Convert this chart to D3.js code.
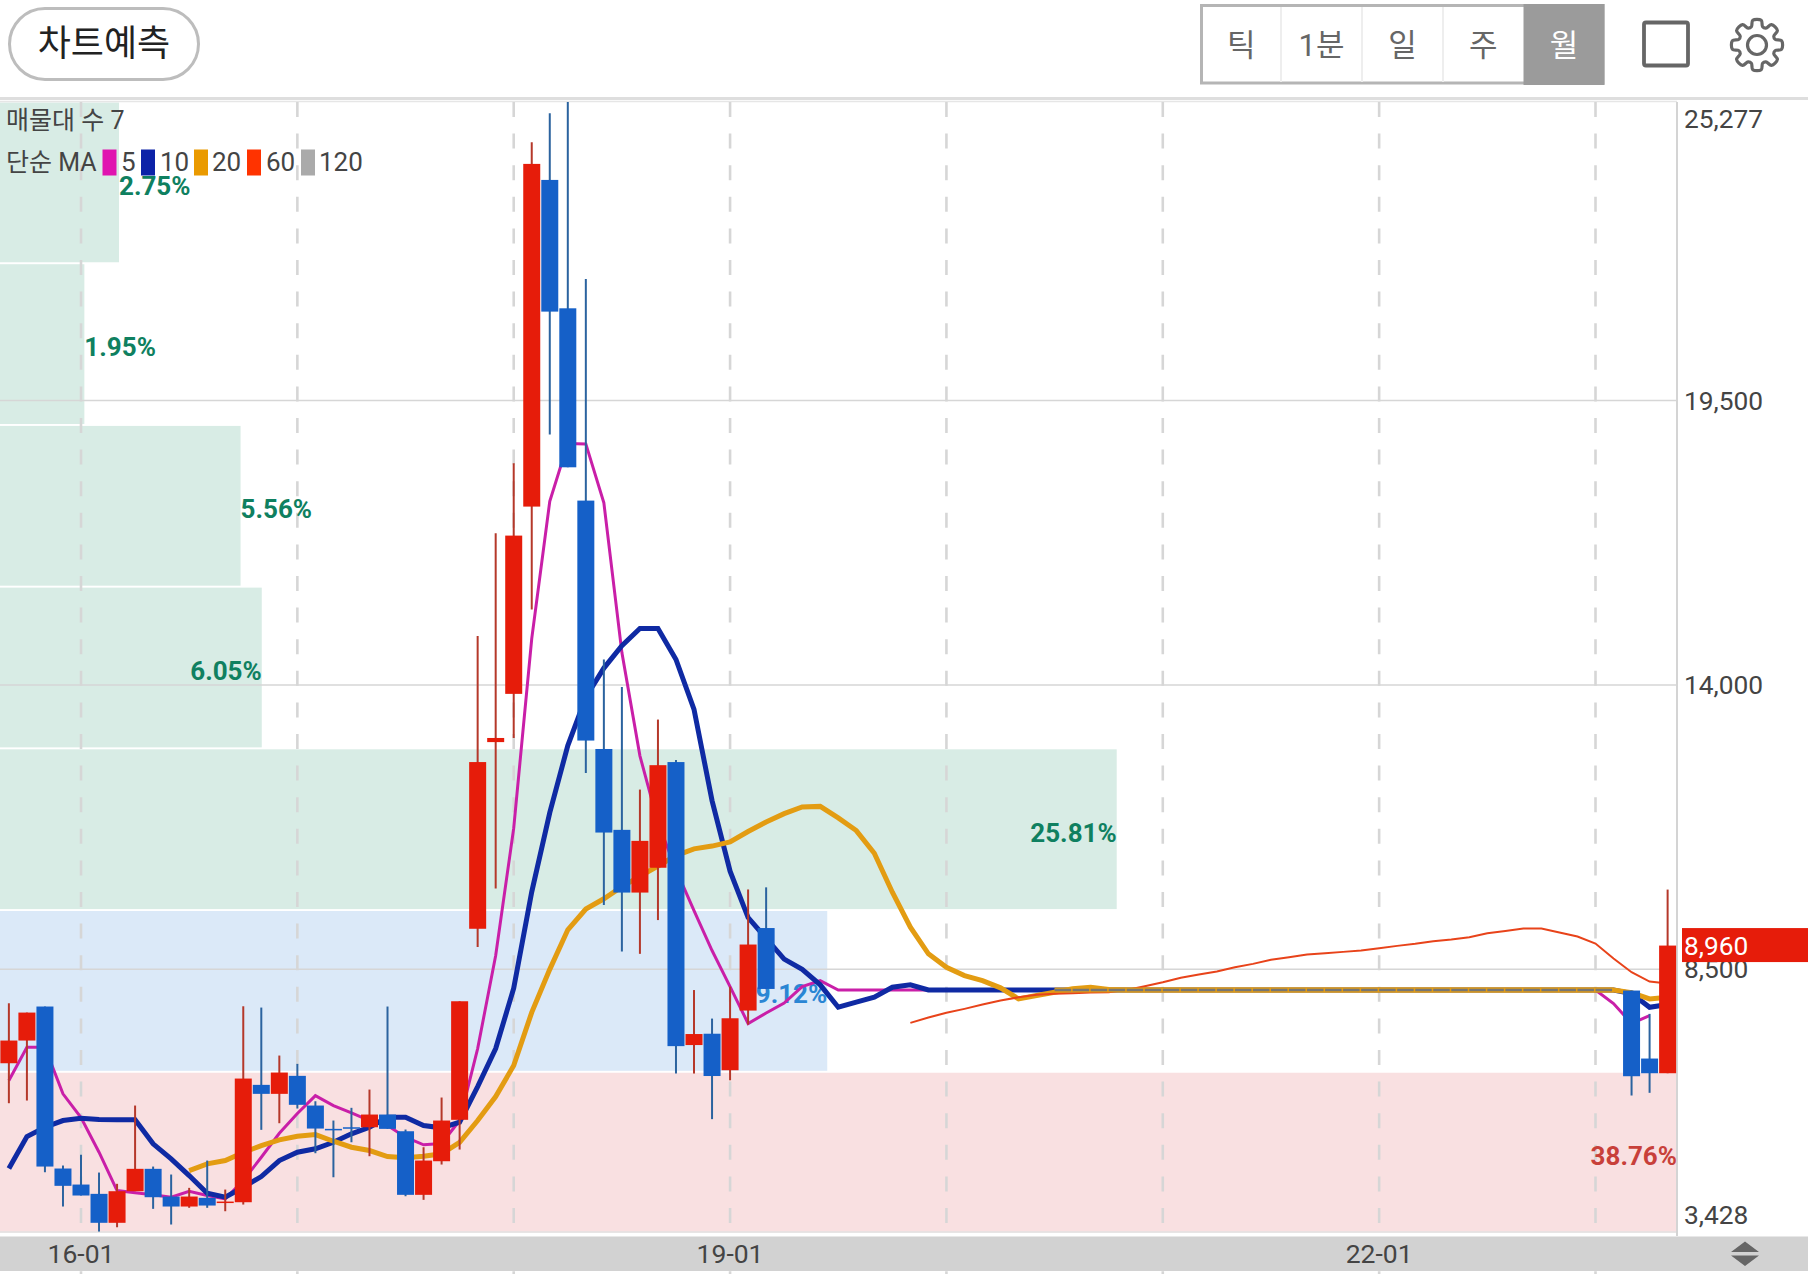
<!DOCTYPE html>
<html><head><meta charset="utf-8">
<script src="https://cdn.jsdelivr.net/npm/d3@7/dist/d3.min.js"></script>
<style>html,body{margin:0;padding:0;background:#fff}svg{display:block}
text{font-family:Roboto,"Noto Sans CJK KR",sans-serif}</style></head><body><svg id="c" width="1808" height="1274"></svg>
<script>
// ---- data ----
const priceMin = 3428, priceMax = 25277;
const priceTicks = [25277, 19500, 14000, 8500, 3428];
const gridPrices = [19500, 14000, 8500];
const lastPrice = 8960;
const yearMonths = [0, 12, 24, 36, 48, 60, 72, 84];          // months since 16-01
const xTickMonths = [0, 36, 72];
const xTickLabels = ['16-01', '19-01', '22-01'];
const profilePct = [2.75, 1.95, 5.56, 6.05, 25.81, 19.12, 38.76];
const profileKind = ['up', 'up', 'up', 'up', 'up', 'mid', 'down'];
const profileLabelOutside = [true, true, true, false, false, false, false];
const periods = ['틱', '1분', '일', '주', '월'];
const maNames = ['5', '10', '20', '60', '120'];

const candleMonths = [-4,-3,-2,-1,0,1,2,3,4,5,6,7,8,9,10,11,12,13,14,15,16,17,18,19,20,21,22,23,24,25,26,27,28,29,30,31,32,33,34,35,36,37,38,86,87,88];
const opens  = [6684,7123,7781,4648,4338,4158,3598,4209,4642,4106,3913,4081,3984,3996,6266,6092,6440,5866,5415,5446,5446,5692,5369,4139,4789,5590,9285,12895,13828,17450,23768,21285,17566,12762,11198,9985,10465,12509,7036,7255,6549,7703,9299,8090,6775,6491];
const highs  = [7844,7664,7781,4706,4912,4570,4352,5866,4686,4532,4274,4802,4241,7786,7761,6833,6672,5949,5576,5822,6175,7781,5402,5060,6021,7883,14946,16933,18287,24495,25056,25277,21854,14493,13961,11977,13331,12549,8100,7548,8167,10045,10086,8090,7639,10043];
const lows   = [5911,5963,4576,3913,4126,3429,3512,4209,3868,3565,3888,3888,3822,3951,5396,5524,5808,4944,4479,5156,4886,5415,4112,4042,4725,5015,8933,10064,12975,15458,18842,18210,12297,9745,8846,8800,9453,6485,6485,5603,6355,7432,8121,6060,6112,6491];
const closes = [7123,7664,4686,4313,4126,3598,4209,4642,4093,3913,4106,3932,4009,6388,6092,6504,5880,5421,5388,5421,5692,5415,4139,4802,5576,7883,12509,12975,16889,24078,21221,18210,12925,11146,9985,10985,12449,7015,7249,6437,7554,8980,8121,6433,6491,8960];

const ma5Start = -4;
const ma5 = [6350,6993,6993,6092,5634,4963,4222,4178,4139,4093,4209,4126,4062,4416,4866,5330,5711,6059,5866,5725,5576,5479,5253,5106,5131,5576,6968,8767,11231,14897,17552,18669,18663,17522,14627,12629,11339,10430,9637,8864,8167,7452,7655,7848,8167,8283,
 8100,8100,8100,8100,8100,8100,8100,8100,8100,8100,8100,8100,8100,8100,8100,8100,8100,8100,8100,8100,8100,8100,8100,8100,8100,8100,8100,8100,8100,8100,8100,8100,8100,8100,8100,8100,8100,8100,8100,8100,8100,8100,8100,7839,7452,7607];
const ma10Start = -4;
const ma10 = [4648,5266,5446,5576,5620,5595,5590,5590,5125,4835,4512,4170,4093,4286,4493,4802,4963,5029,5156,5319,5446,5640,5640,5479,5435,5543,6233,6968,8134,9999,11532,12828,13762,14327,14762,15093,15093,14493,13528,11764,10399,9502,9099,8699,8500,8200,7767,7866,7960,8154,8200,8103,
 8100,8100,8100,8100,8100,8100,8100,8100,8100,8100,8100,8100,8100,8100,8100,8100,8100,8100,8100,8100,8100,8100,8100,8100,8100,8100,8100,8100,8100,8100,8100,8100,8100,8100,8100,8100,8100,8100,8032,7767,7819];
const ma20Start = 6;
const ma20 = [4609,4739,4802,4957,5092,5203,5272,5305,5176,5060,4996,4880,4855,4886,4932,5156,5576,6040,6640,7668,8500,9266,9666,9865,10101,10299,10498,10701,10830,10884,10964,11165,11350,11511,11642,11652,11430,11184,10745,9991,9314,8800,8541,8380,8283,8142,7929,7993,8057,8123,8154,8109,
 8100,8100,8100,8100,8100,8100,8100,8100,8100,8100,8100,8100,8100,8100,8100,8100,8100,8100,8100,8100,8100,8100,8100,8100,8100,8100,8100,8100,8051,7929,7960];
const ma60Start = 46;
const ma60 = [7465,7568,7659,7736,7819,7897,7960,8007,8026,8038,8051,8057,8103,8173,8250,8336,8399,8457,8541,8606,8684,8734,8786,8811,8838,8864,8908,8954,8993,9043,9076,9121,9198,9240,9289,9289,9212,9134,8999,8709,8444,8264,8225];
const ma120Start = 54;
const ma120 = [8100,8100,8100,8100,8100,8100,8100,8100,8100,8100,8100,8100,8100,8100,8100,8100,8100,8100,8100,8100,8100,8100,8100,8100,8100,8100,8100,8100,8100,8100,8100,8100];

// ---- style ----
const RED='#e61c0a', BLUE='#1560c8', RED_W='#b5382a', BLUE_W='#2b639f';
const MA_COL=['#c91fa8','#0f2aa3','#e39c12','#e8431a','#a9a9a9'];
const LEG_COL=['#e014b0','#0c22a8','#ea9a00','#ff3300','#aaaaaa'];
const kindFill={up:'#d8ece5',mid:'#dbe9f8',down:'#f9e0e1'};
const kindText={up:'#0f8060',mid:'#2a86d4',down:'#c8403a'};

const plotL=0, plotR=1677, plotT=102, plotB=1232;
const svg=d3.select('#c');
const y=d3.scaleLinear().domain([priceMin,priceMax]).range([1231.6,101.9]);
const x=d3.scaleLinear().domain([0,84]).range([81,1595.5]);
const w=d3.scaleLinear().domain([0,38.76]).range([0,plotR]);
const band=d3.scaleBand().domain(d3.range(profilePct.length)).range([plotT,plotB]).paddingInner(0.012).paddingOuter(0);

// ---- volume profile ----
const gP=svg.append('g');
gP.selectAll('rect').data(profilePct).join('rect')
  .attr('x',0).attr('y',(d,i)=>band(i)+0.5).attr('width',d=>w(d)).attr('height',band.bandwidth())
  .attr('fill',(d,i)=>kindFill[profileKind[i]]);

// ---- grid ----
svg.append('rect').attr('x',0).attr('y',97).attr('width',1808).attr('height',3).attr('fill','#dedede');
svg.append('line').attr('x1',0).attr('x2',plotR).attr('y1',101.5).attr('y2',101.5).attr('stroke','#e6e6e6').attr('stroke-width',1.5);
svg.append('line').attr('x1',0).attr('x2',plotR).attr('y1',1232).attr('y2',1232).attr('stroke','#e2e2e2').attr('stroke-width',1.5);
svg.append('g').selectAll('line').data(gridPrices).join('line')
  .attr('x1',0).attr('x2',plotR).attr('y1',d=>y(d)).attr('y2',d=>y(d)).attr('stroke','#d6d6d6').attr('stroke-width',1.5);
svg.append('g').selectAll('line').data(yearMonths).join('line')
  .attr('x1',d=>x(d)).attr('x2',d=>x(d)).attr('y1',plotT).attr('y2',1274)
  .attr('stroke','#d6d6d6').attr('stroke-width',2.6).attr('stroke-dasharray','15 16.6');
svg.append('line').attr('x1',plotR).attr('x2',plotR).attr('y1',plotT).attr('y2',1236).attr('stroke','#d4d4d4').attr('stroke-width',2);

// ---- profile labels ----
svg.append('g').selectAll('text').data(profilePct).join('text')
  .attr('x',d=>w(d)).attr('y',(d,i)=>band(i)+band.bandwidth()/2+12.8)
  .attr('text-anchor',(d,i)=>profileLabelOutside[i]?'start':'end')
  .attr('font-size',26).attr('font-weight',700)
  .attr('fill',(d,i)=>kindText[profileKind[i]])
  .text(d=>d.toFixed(2)+'%');

// ---- moving averages ----
const line=d3.line().x(d=>x(d[0])).y(d=>y(d[1]));
const maSeries=[[ma5Start,ma5],[ma10Start,ma10],[ma20Start,ma20],[ma60Start,ma60]];
const maWidth=[3,5,5,2];
const gM=svg.append('g').attr('fill','none').attr('stroke-linejoin','miter');
maSeries.forEach(([s,vals],i)=>{
  gM.append('path').attr('d',line(vals.map((v,k)=>[s+k,v]))).attr('stroke',MA_COL[i]).attr('stroke-width',maWidth[i]);
});
const ma120Pts=ma120.map((v,k)=>[ma120Start+k,v]);
gM.append('path').attr('d',line(ma120Pts)).attr('stroke',MA_COL[2]).attr('stroke-width',5);
gM.append('path').attr('d',line(ma120Pts)).attr('stroke','#757575').attr('stroke-width',2.6).attr('stroke-dasharray','16.5 1.53');

// ---- candles ----
const candles=candleMonths.map((m,i)=>({m,o:opens[i],h:highs[i],l:lows[i],c:closes[i]}));
const gC=svg.append('g');
gC.selectAll('line').data(candles).join('line')
  .attr('x1',d=>x(d.m)).attr('x2',d=>x(d.m)).attr('y1',d=>y(d.h)).attr('y2',d=>y(d.l))
  .attr('stroke',d=>d.c>=d.o?RED_W:BLUE_W).attr('stroke-width',2);
gC.selectAll('rect').data(candles).join('rect')
  .attr('x',d=>x(d.m)-8.5).attr('width',17)
  .attr('y',d=>y(Math.max(d.o,d.c))).attr('height',d=>Math.max(1.5,Math.abs(y(d.o)-y(d.c))))
  .attr('fill',d=>d.c>=d.o?RED:BLUE);

// ---- price axis ----
const tickOff={25277:26.5,19500:9.5,14000:9,8500:9,3428:-8};
svg.append('g').selectAll('text').data(priceTicks).join('text')
  .attr('x',1684).attr('y',d=>y(d)+tickOff[d]).attr('font-size',26.3).attr('fill','#444').text(d=>d3.format(',')(d));
svg.append('rect').attr('x',1682).attr('y',y(lastPrice)-17.5).attr('width',126).attr('height',34).attr('fill',RED);
svg.append('text').attr('x',1684).attr('y',y(lastPrice)+9).attr('font-size',26.3).attr('fill','#fff').text(d3.format(',')(lastPrice));

// ---- time axis ----
svg.append('rect').attr('x',0).attr('y',1236.5).attr('width',1808).attr('height',34.5).attr('fill','#d2d2d2');
svg.append('g').selectAll('text').data(xTickMonths).join('text')
  .attr('x',d=>x(d)).attr('y',1263).attr('text-anchor','middle').attr('font-size',26.5).attr('fill','#444')
  .text((d,i)=>xTickLabels[i]);
svg.append('path').attr('d','M1731 1252 L1745 1241.5 L1759 1252 Z M1731 1255.5 L1759 1255.5 L1745 1266 Z').attr('fill','#666');

// ---- legend ----
const leg=svg.append('g').attr('font-size',25).attr('fill','#444');
leg.append('text').attr('x',6).attr('y',129).text('매물대 수 7');
leg.append('text').attr('x',6).attr('y',171).text('단순 MA');
const swX=[102.5,141,194,247,301], lbX=[121,160,212,266,319];
maNames.forEach((n,i)=>{
  leg.append('rect').attr('x',swX[i]).attr('y',149.5).attr('width',14).attr('height',26).attr('fill',LEG_COL[i]);
  leg.append('text').attr('x',lbX[i]).attr('y',171).attr('font-size',26).text(n);
});

// ---- header ----
svg.append('rect').attr('x',9.5).attr('y',8.5).attr('width',189).attr('height',71).attr('rx',35.5)
  .attr('fill','#fff').attr('stroke','#bdbdbd').attr('stroke-width',3);
svg.append('text').attr('x',104).attr('y',56).attr('text-anchor','middle').attr('font-size',36).attr('fill','#222')
  .attr('font-family','"Noto Sans CJK KR"').text('차트예측');
const cellX=[1201.5,1281,1362,1443,1523.5,1604.5];
svg.append('rect').attr('x',1201.5).attr('y',5.5).attr('width',401.5).attr('height',77.5).attr('fill','#fff').attr('stroke','#b5b5b5').attr('stroke-width',3);
svg.append('rect').attr('x',cellX[4]).attr('y',4).attr('width',cellX[5]-cellX[4]).attr('height',81).attr('fill','#9b9b9b');
[1,2,3].forEach(i=>svg.append('line').attr('x1',cellX[i]).attr('x2',cellX[i]).attr('y1',7).attr('y2',82).attr('stroke','#eeeeee').attr('stroke-width',2));
svg.append('g').selectAll('text').data(periods).join('text')
  .attr('x',(d,i)=>(cellX[i]+cellX[i+1])/2).attr('y',56).attr('text-anchor','middle').attr('font-size',31)
  .attr('font-family','"Noto Sans CJK KR"')
  .attr('fill',(d,i)=>i===4?'#fff':'#666').text(d=>d);
svg.append('rect').attr('x',1644).attr('y',22.5).attr('width',44).attr('height',43).attr('rx',2).attr('fill','none').attr('stroke','#666').attr('stroke-width',3.8);
const gearPts=[];
for(let k=0;k<8;k++){const a=k*Math.PI/4;gearPts.push([a-0.17,25],[a+0.17,25],[a+0.30,19],[a+Math.PI/4-0.30,19]);}
svg.append('path').attr('transform','translate(1757,45)')
  .attr('d',d3.lineRadial().angle(d=>d[0]).radius(d=>d[1]).curve(d3.curveCatmullRomClosed)(gearPts))
  .attr('fill','none').attr('stroke','#666').attr('stroke-width',3.2);
svg.append('circle').attr('cx',1757).attr('cy',45).attr('r',9.5).attr('fill','none').attr('stroke','#666').attr('stroke-width',3.2);
</script></body></html>
